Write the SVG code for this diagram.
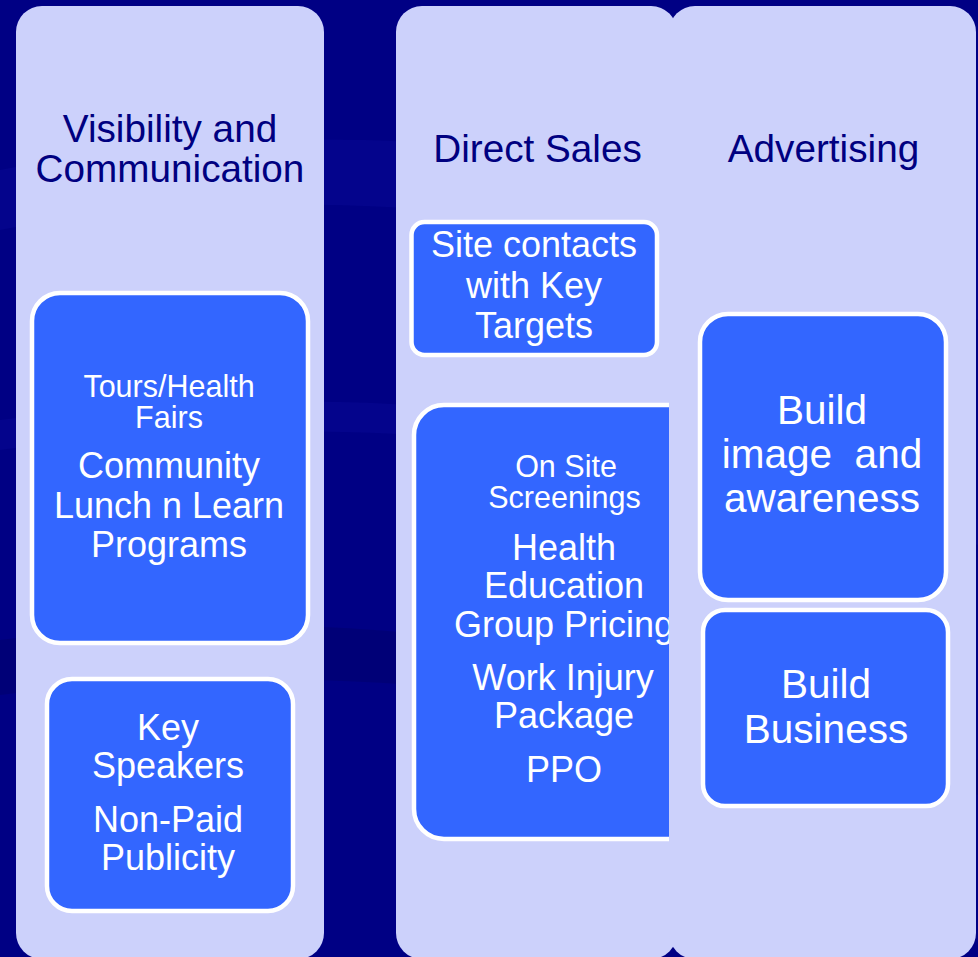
<svg xmlns="http://www.w3.org/2000/svg" width="978" height="957" viewBox="0 0 978 957">
  <style>
    .bg { fill: #000084; }
    .streak { fill: #0c0c9c; opacity: 0.35; }
    .streak-dark { fill: #000068; opacity: 0.45; }
    .panel { fill: #ccd1fb; }
    .box { fill: #3366ff; stroke: #ffffff; stroke-width: 4.5; }
    text { font-family: "Liberation Sans", Arial, sans-serif; text-anchor: middle; }
    .head { fill: #000080; font-size: 38.7px; }
    .lbl { fill: #ffffff; font-size: 36px; }
    .small { fill: #ffffff; font-size: 30.5px; }
    .big { fill: #ffffff; font-size: 40.5px; }
  </style>

  <!-- backdrop with soft diagonal swooshes -->
  <rect class="bg" x="0" y="0" width="978" height="957"/>
  <path class="streak" d="M0 170 C 250 120, 600 120, 978 260 L 978 320 C 620 200, 260 180, 0 230 Z"/>
  <path class="streak-dark" d="M0 640 C 300 600, 650 640, 978 760 L 978 795 C 650 690, 300 655, 0 695 Z"/>
  <path class="streak" d="M0 420 C 300 380, 650 400, 978 520 L 978 545 C 650 430, 300 410, 0 450 Z"/>

  <!-- Visibility and Communication column -->
  <g id="col-visibility">
    <rect class="panel" x="16" y="6" width="308" height="953" rx="26" ry="26"/>
    <text class="head" x="170" y="142">Visibility and</text>
    <text class="head" x="170" y="182">Communication</text>
  </g>
  <g id="box-tours">
    <rect class="box" x="32" y="293" width="276" height="350" rx="28" ry="28"/>
    <text class="small" x="169" y="397">Tours/Health</text>
    <text class="small" x="169" y="428">Fairs</text>
    <text class="lbl" x="169" y="478">Community</text>
    <text class="lbl" x="169" y="517.5">Lunch n Learn</text>
    <text class="lbl" x="169" y="557">Programs</text>
  </g>
  <g id="box-speakers">
    <rect class="box" x="47" y="679" width="246" height="232" rx="25" ry="25"/>
    <text class="lbl" x="168" y="740">Key</text>
    <text class="lbl" x="168" y="778">Speakers</text>
    <text class="lbl" x="168" y="832">Non-Paid</text>
    <text class="lbl" x="168" y="870">Publicity</text>
  </g>

  <!-- Direct Sales column -->
  <g id="col-direct-sales">
    <rect class="panel" x="396" y="6" width="281" height="953" rx="26" ry="26"/>
    <text class="head" x="537.5" y="162">Direct Sales</text>
  </g>
  <g id="box-site-contacts">
    <rect class="box" x="411.5" y="222" width="245.5" height="133" rx="13" ry="13"/>
    <text class="lbl" x="534" y="257">Site contacts</text>
    <text class="lbl" x="534" y="297.5">with Key</text>
    <text class="lbl" x="534" y="338">Targets</text>
  </g>
  <g id="box-screenings">
    <rect class="box" x="414" y="405" width="300" height="434" rx="30" ry="30"/>
    <text class="small" x="566" y="477">On Site</text>
    <text class="small" x="564.5" y="508">Screenings</text>
    <text class="lbl" x="564" y="560">Health</text>
    <text class="lbl" x="564" y="598">Education</text>
    <text class="lbl" x="564" y="637">Group Pricing</text>
    <text class="lbl" x="563" y="690">Work Injury</text>
    <text class="lbl" x="564" y="728">Package</text>
    <text class="lbl" x="564" y="782">PPO</text>
  </g>

  <!-- Advertising column (laid over the edge of the Direct Sales column) -->
  <g id="col-advertising">
    <rect class="panel" x="669" y="6" width="307" height="953" rx="26" ry="26"/>
    <text class="head" x="823.5" y="162">Advertising</text>
  </g>
  <g id="box-image">
    <rect class="box" x="700" y="314" width="246" height="286" rx="28" ry="28"/>
    <text class="big" x="822" y="424">Build</text>
    <text class="big" x="822" y="468" xml:space="preserve">image  and</text>
    <text class="big" x="822" y="512">awareness</text>
  </g>
  <g id="box-business">
    <rect class="box" x="703" y="610" width="245" height="196" rx="22" ry="22"/>
    <text class="big" x="826" y="698">Build</text>
    <text class="big" x="826" y="743">Business</text>
  </g>
</svg>
